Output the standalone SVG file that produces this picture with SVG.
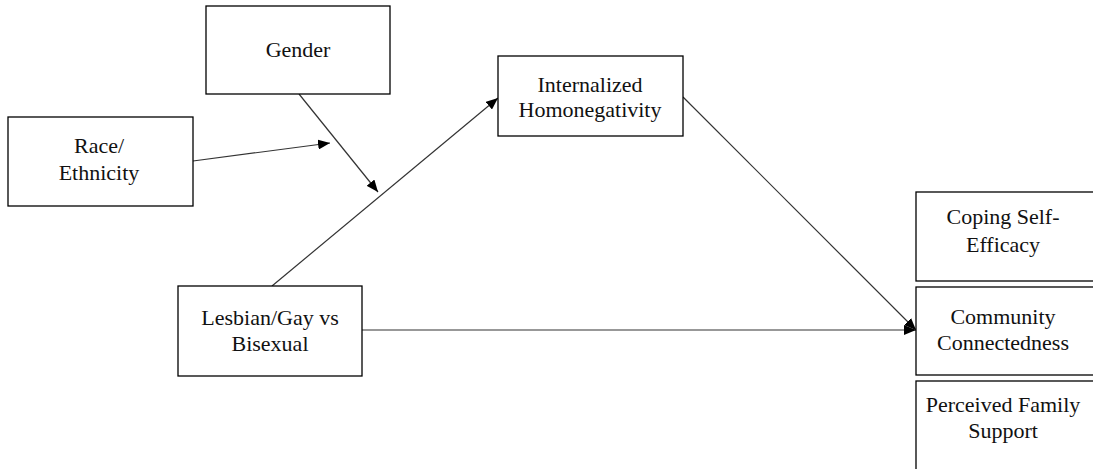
<svg xmlns="http://www.w3.org/2000/svg" width="1093" height="469" viewBox="0 0 1093 469">
<defs>
<style>
.box{fill:#fff;stroke:#000;stroke-width:1.3}
.lbl{font-family:"Liberation Serif","Times New Roman",serif;font-size:22px;fill:#111;text-anchor:middle}
.conn{stroke:#333;stroke-width:1.2;fill:none}
</style>
<marker id="ah" viewBox="0 0 12 10" refX="12" refY="5" markerWidth="12" markerHeight="10" markerUnits="userSpaceOnUse" orient="auto">
<path d="M0,0 L12,5 L0,10 Z" fill="#000"/>
</marker>
</defs>
<rect width="1093" height="469" fill="#fff"/>
<g id="connectors">
<line class="conn" x1="193" y1="161" x2="330" y2="143" marker-end="url(#ah)"/>
<line class="conn" x1="299" y1="94" x2="378" y2="192" marker-end="url(#ah)"/>
<line class="conn" x1="272" y1="286" x2="498" y2="98" marker-end="url(#ah)"/>
<line class="conn" x1="683" y1="97" x2="916" y2="330" marker-end="url(#ah)"/>
<line class="conn" x1="362" y1="330" x2="916" y2="330" marker-end="url(#ah)"/>
</g>
<g id="gender">
<rect class="box" x="206" y="6" width="184" height="88"/>
<text class="lbl" x="298" y="57">Gender</text>
</g>
<g id="race">
<rect class="box" x="8" y="117" width="185" height="89"/>
<text class="lbl" x="99" y="153">Race/</text>
<text class="lbl" x="99" y="180">Ethnicity</text>
</g>
<g id="internalized">
<rect class="box" x="498" y="56" width="185" height="80"/>
<text class="lbl" x="590" y="92">Internalized</text>
<text class="lbl" x="590" y="117">Homonegativity</text>
</g>
<g id="lgb">
<rect class="box" x="178" y="286" width="184" height="90"/>
<text class="lbl" x="270" y="325">Lesbian/Gay vs</text>
<text class="lbl" x="270" y="351">Bisexual</text>
</g>
<g id="coping">
<rect class="box" x="916" y="192" width="180" height="89"/>
<text class="lbl" x="1003" y="224">Coping Self-</text>
<text class="lbl" x="1003" y="252">Efficacy</text>
</g>
<g id="community">
<rect class="box" x="916" y="287" width="180" height="88"/>
<text class="lbl" x="1003" y="324">Community</text>
<text class="lbl" x="1003" y="350">Connectedness</text>
</g>
<g id="family">
<rect class="box" x="916" y="381" width="180" height="100"/>
<text class="lbl" x="1003" y="412">Perceived Family</text>
<text class="lbl" x="1003" y="438">Support</text>
</g>
</svg>
